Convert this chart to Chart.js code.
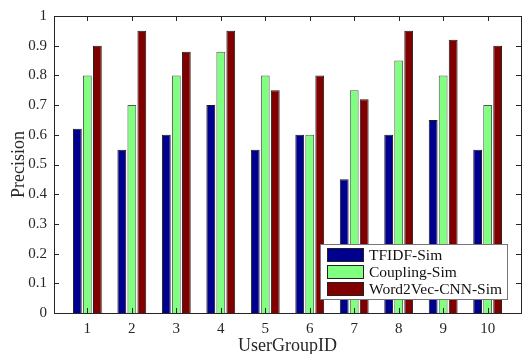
<!DOCTYPE html>
<html>
<head>
<meta charset="utf-8">
<script src="https://cdn.jsdelivr.net/npm/chart.js@4"></script>
<style>
  html, body { margin: 0; padding: 0; background: #fff; }
  #wrap { width: 522px; height: 354px; }
</style>
</head>
<body>
<div id="wrap"><canvas id="precChart"></canvas></div>
<script>
// data
var groups = [1, 2, 3, 4, 5, 6, 7, 8, 9, 10];
var tfidfSim = [0.62, 0.55, 0.60, 0.70, 0.55, 0.60, 0.45, 0.60, 0.65, 0.55];
var couplingSim = [0.80, 0.70, 0.80, 0.88, 0.80, 0.60, 0.75, 0.85, 0.80, 0.70];
var w2vSim = [0.90, 0.95, 0.88, 0.95, 0.75, 0.80, 0.72, 0.95, 0.92, 0.90];
var yTicks = [0, 0.1, 0.2, 0.3, 0.4, 0.5, 0.6, 0.7, 0.8, 0.9, 1];

var serif = '"Liberation Serif", "DejaVu Serif", serif';

function pts(vals) {
    return vals.map(function(v, i) { return { x: groups[i], y: v }; });
}

// box + inward ticks (matlab style) and the legend inside the axes
var matlabAxes = {
    id: 'matlabAxes',
    afterDraw: function(chart) {
        var ctx = chart.ctx;
        var a = chart.chartArea;
        var xs = chart.scales.x, ys = chart.scales.y;
        ctx.save();
        ctx.strokeStyle = '#262626';
        ctx.lineWidth = 1;
        ctx.beginPath();
        yTicks.forEach(function(t) {
            var py = Math.round(ys.getPixelForValue(t)) + 0.5;
            ctx.moveTo(a.left, py); ctx.lineTo(a.left + 5, py);
            ctx.moveTo(a.right, py); ctx.lineTo(a.right - 5, py);
        });
        groups.forEach(function(g) {
            var px = Math.round(xs.getPixelForValue(g)) + 0.5;
            ctx.moveTo(px, a.top); ctx.lineTo(px, a.top + 5);
            ctx.moveTo(px, a.bottom); ctx.lineTo(px, a.bottom - 5);
        });
        ctx.stroke();
        ctx.strokeRect(Math.round(a.left) + 0.5, Math.round(a.top) + 0.5,
            Math.round(a.right - a.left), Math.round(a.bottom - a.top));

        // legend
        var lx = 320, ly = 244, lw = 187, lh = 55;
        ctx.fillStyle = '#fff';
        ctx.fillRect(lx, ly, lw, lh);
        ctx.strokeStyle = '#777';
        ctx.strokeRect(lx + 0.5, ly + 0.5, lw, lh);
        ctx.font = '15.5px ' + serif;
        ctx.textBaseline = 'middle';
        chart.data.datasets.forEach(function(ds, i) {
            var cy = ly + 11 + i * 17;
            ctx.fillStyle = ds.backgroundColor;
            ctx.fillRect(lx + 7, cy - 7, 36, 14);
            ctx.strokeStyle = '#222';
            ctx.strokeRect(lx + 7.5, cy - 6.5, 36, 13);
            ctx.fillStyle = '#111';
            ctx.fillText(ds.label, lx + 49, cy + 1);
        });
        ctx.restore();
    }
};

var ctx = document.getElementById('precChart').getContext('2d');
var precChart = new Chart(ctx, {
    type: 'bar',
    data: {
        datasets: [
            { label: 'TFIDF-Sim', data: pts(tfidfSim), backgroundColor: '#00008f', borderColor: '#1a1a1a', borderWidth: 1 },
            { label: 'Coupling-Sim', data: pts(couplingSim), backgroundColor: '#80ff80', borderColor: '#555', borderWidth: 1 },
            { label: 'Word2Vec-CNN-Sim', data: pts(w2vSim), backgroundColor: '#800000', borderColor: '#1a1a1a', borderWidth: 1 }
        ]
    },
    options: {
        responsive: true,
        maintainAspectRatio: false,
        animation: false,
        layout: { padding: { top: 14, right: 1, left: 0, bottom: 0 } },
        plugins: { legend: { display: false }, tooltip: { enabled: false } },
        datasets: { bar: { categoryPercentage: 0.675, barPercentage: 0.88 } },
        scales: {
            x: {
                type: 'linear',
                min: 0.25, max: 10.75,
                offset: false,
                grid: { display: false, drawTicks: false, offset: false },
                border: { display: false },
                afterBuildTicks: function(s) { s.ticks = groups.map(function(g) { return { value: g }; }); },
                afterFit: function(s) { s.height = 41; },
                ticks: { color: '#262626', font: { family: serif, size: 15 }, padding: 7, maxRotation: 0 },
                title: { display: true, text: 'UserGroupID', color: '#262626', font: { family: serif, size: 18 }, padding: { top: 4, bottom: -3 } }
            },
            y: {
                min: 0, max: 1,
                grid: { display: false, drawTicks: false },
                border: { display: false },
                afterBuildTicks: function(s) { s.ticks = yTicks.map(function(t) { return { value: t }; }); },
                afterFit: function(s) { s.width = 54; },
                ticks: { color: '#262626', font: { family: serif, size: 15 }, padding: 7,
                    callback: function(v) { return String(v); } },
                title: { display: true, text: 'Precision', color: '#262626', font: { family: serif, size: 18 }, padding: { top: 8, bottom: 2 } }
            }
        }
    },
    plugins: [matlabAxes]
});
</script>
</body>
</html>
